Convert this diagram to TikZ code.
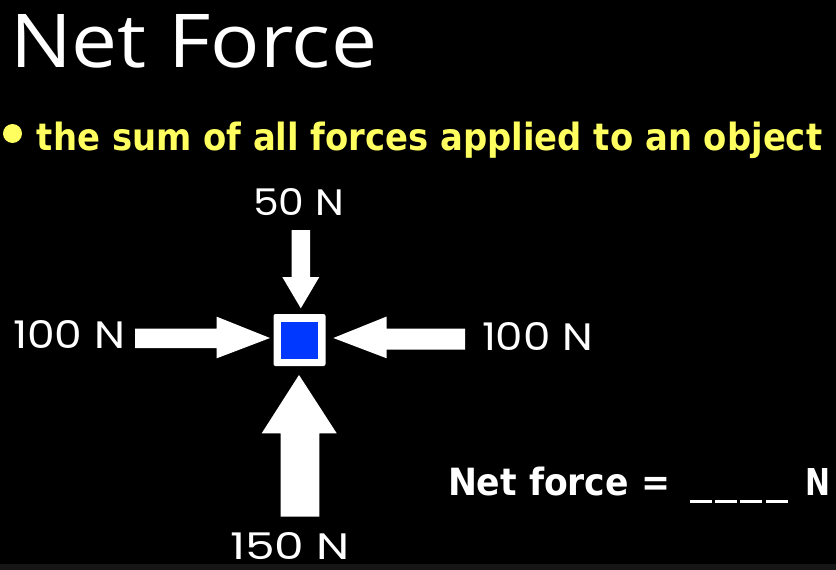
\documentclass[tikz,border=0pt]{standalone}
\usepackage{fontspec}
\setmainfont{DejaVu Sans}
\newfontfamily\labelfont{Poppins}
\newfontfamily\titlefont{Open Sans}
\newfontfamily\comicfont{DejaVu Sans}
\definecolor{slideyellow}{RGB}{255,255,95}
\definecolor{objblue}{RGB}{0,56,255}
\definecolor{stripgray}{RGB}{22,22,22}
\begin{document}
\begin{tikzpicture}[x=1pt,y=-1pt,
  lbl/.style={inner sep=0pt, outer sep=0pt, anchor=base west, text=white, font=\labelfont},
  force/.style={fill=white, draw=none},
  blank/.style={fill=white, draw=none, inner sep=0pt, minimum width=22pt, minimum height=2.6pt}]
\fill[black] (0,0) rectangle (836,570);
\fill[stripgray] (0,564) rectangle (836,570);
\useasboundingbox (0,0) rectangle (836,570);
% title
\node[lbl, font=\titlefont] (title) at (10,67) {\resizebox{367pt}{53pt}{Net Force}};
% definition
\node[circle, fill=slideyellow, inner sep=0pt, minimum size=19pt] (bullet) at (12.5,133.5) {};
\node[lbl, text=slideyellow, font=\comicfont\bfseries] (def) at (37,150)
  {\resizebox{785pt}{28.5pt}{the sum of all forces applied to an object}};
% object
\node[fill=white, rounded corners=2pt, inner sep=0pt, minimum size=52pt] (obj) at (299.5,340) {};
\node[fill=objblue, inner sep=0pt, minimum size=37pt] (core) at (obj.center) {};
% top arrow (down)
\fill[force] (291.7,230) -- (310,230) -- (310,277) -- (319.3,277) -- (300.8,308.3)
  -- (282.3,277) -- (291.7,277) -- cycle;
% left arrow (right)
\fill[force] (135,328.5) -- (216.7,328.5) -- (216.7,316.7) -- (270,338) -- (216.7,358.3)
  -- (216.7,348) -- (135,348) -- cycle;
% right arrow (left)
\fill[force] (465,328.5) -- (386.7,328.5) -- (386.7,316.5) -- (333.3,338) -- (386.7,358.3)
  -- (386.7,349.5) -- (465,349.5) -- cycle;
% bottom arrow (up)
\fill[force] (280.7,516.7) -- (319.3,516.7) -- (319.3,433.3) -- (336.7,433.3) -- (299,375)
  -- (261.7,433.3) -- (280.7,433.3) -- cycle;
% labels
\node[lbl] (l50) at (253,215) {\resizebox{91pt}{27pt}{50 N}};
\node[lbl] (l100l) at (13,348) {\resizebox{112pt}{28pt}{100 N}};
\node[lbl] (l100r) at (482,350) {\resizebox{111pt}{28pt}{100 N}};
\node[lbl] (l150) at (230,559) {\resizebox{120pt}{27pt}{150 N}};
% net force line
\node[lbl, font=\comicfont\bfseries] (net) at (448,495) {\resizebox{222pt}{28.5pt}{Net force =}};
\node[blank] (b1) at (701,501.5) {};
\node[blank] (b2) at (726,501.5) {};
\node[blank] (b3) at (751,501.5) {};
\node[blank] (b4) at (776.5,501.5) {};
\node[lbl, font=\comicfont\bfseries] (unit) at (805,495) {\resizebox{25pt}{27pt}{N}};
\end{tikzpicture}
\end{document}
